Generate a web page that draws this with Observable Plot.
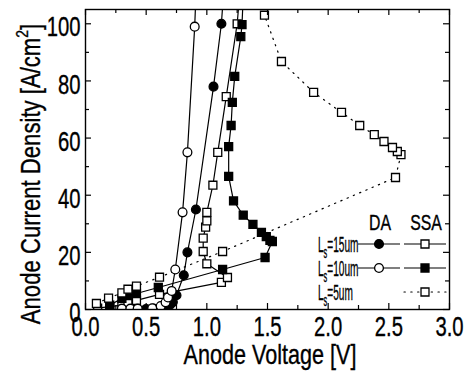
<!DOCTYPE html>
<html><head><meta charset="utf-8">
<script src="https://cdn.jsdelivr.net/npm/d3@7"></script>
<script src="https://cdn.jsdelivr.net/npm/@observablehq/plot@0.6"></script>
<style>body{margin:0;background:#fff} svg{display:block}</style>
</head><body><div id="chart"></div>
<script>
// ---- data (Anode voltage [V], anode current density [A/cm2]) ----
const ls15DA_V = [0.50,0.56,0.62,0.66,0.70,0.72,0.75,0.81,0.84,0.91,1.055,1.12,1.14];
const ls15DA_J = [0.2,0.3,0.5,1.0,1.8,2.6,5.0,12,20,35,78,100,112];

const ls10DA_V = [0.30,0.37,0.43,0.55,0.62,0.66,0.68,0.71,0.74,0.80,0.84,0.90,0.91];
const ls10DA_J = [0.3,0.3,0.3,0.4,1.2,2.5,4.2,6.5,14,34,55,99,110];

const ls15SSA_V = [0.10,0.20,0.30,0.35,0.42,0.61,1.12,1.17,1.00,0.97,0.97,0.99,1.00,1.00,1.05,1.09,1.16,1.25,1.27];
const ls15SSA_J = [0.5,1.0,1.5,2.5,3.2,5.3,9.5,11.2,16,20.3,25,28.8,31,34,43.5,55,74.5,100,110];

const ls10SSA_V = [0.20,0.30,0.35,0.42,0.60,1.13,1.48,1.54,1.52,1.49,1.45,1.38,1.30,1.22,1.18,1.18,1.20,1.21,1.23,1.28,1.29,1.30];
const ls10SSA_J = [1.5,3.9,4.9,5.6,7.7,14,18.2,23.8,24.2,25.5,27,29.8,33,38,46.6,57,64.4,72.5,81.6,95.5,99.7,110];

const ls5SSA_V = [0.09,0.19,0.30,0.35,0.42,0.61,1.13,2.555,2.60,2.57,2.53,2.46,2.38,2.26,2.11,1.88,1.615,1.475];
const ls5SSA_J = [2.1,4.0,5.8,7.1,8.2,11.3,20.3,46.2,54.2,55.3,56.7,58.8,61.2,64.4,69,76,86.8,103];

const xMajor = [0,0.5,1.0,1.5,2.0,2.5,3.0];
const xMinor = [0.25,0.75,1.25,1.75,2.25,2.75];
const yMajor = [0,20,40,60,80,100];
const yMinor = [10,30,50,70,90];

const legendCols = ["DA","SSA"];
const legendRows = ["15um","10um","5um"];

// ---- build ----
const series = [
  {V: ls15SSA_V, J: ls15SSA_J, symbol: "square", fill: "white", dash: null},
  {V: ls10SSA_V, J: ls10SSA_J, symbol: "square", fill: "black", dash: null},
  {V: ls5SSA_V,  J: ls5SSA_J,  symbol: "square", fill: "white", dash: "1.3,5.5"},
  {V: ls15DA_V,  J: ls15DA_J,  symbol: "circle", fill: "black", dash: null},
  {V: ls10DA_V,  J: ls10DA_J,  symbol: "circle", fill: "white", dash: null}
];
const toRows = s => s.V.map((v,i) => ({v, j: s.J[i]}));

const W = 471, H = 383, mL = 85, mR = 22, mT = 9, mB = 74;
const innerW = W - mL - mR, innerH = H - mT - mB;
const font = "'Liberation Sans', Arial, sans-serif";

const marks = [];
for (const s of series) {
  marks.push(Plot.line(toRows(s), {x: "v", y: "j", stroke: "black", strokeWidth: 1.2,
    strokeDasharray: s.dash || undefined, strokeLinecap: s.dash ? "round" : undefined, clip: true}));
}
for (const s of series) {
  marks.push(Plot.dot(toRows(s), {x: "v", y: "j", symbol: s.symbol, r: s.symbol === "square" ? 4.5 : 4.4,
    fill: s.fill, stroke: "black", strokeWidth: 1.3, clip: true}));
}
// inward ticks on all four sides
marks.push(
  Plot.ruleX(xMajor, {x: d => d, insetTop: innerH - 6, stroke: "black", strokeWidth: 1.2}),
  Plot.ruleX(xMajor, {x: d => d, insetBottom: innerH - 6, stroke: "black", strokeWidth: 1.2}),
  Plot.ruleX(xMinor, {x: d => d, insetTop: innerH - 4, stroke: "black", strokeWidth: 1.2}),
  Plot.ruleX(xMinor, {x: d => d, insetBottom: innerH - 4, stroke: "black", strokeWidth: 1.2}),
  Plot.ruleY(yMajor, {y: d => d, insetRight: innerW - 6, stroke: "black", strokeWidth: 1.2}),
  Plot.ruleY(yMajor, {y: d => d, insetLeft: innerW - 6, stroke: "black", strokeWidth: 1.2}),
  Plot.ruleY(yMinor, {y: d => d, insetRight: innerW - 4, stroke: "black", strokeWidth: 1.2}),
  Plot.ruleY(yMinor, {y: d => d, insetLeft: innerW - 4, stroke: "black", strokeWidth: 1.2}),
  Plot.frame({stroke: "black", strokeWidth: 1.4}),
  Plot.axisX(xMajor, {tickSize: 0, tickPadding: 7, fontSize: 27, tickFormat: d3.format(".1f"), label: null}),
  Plot.axisY(yMajor, {tickSize: 0, tickPadding: 5, dy: 4, fontSize: 27, label: null})
);

const svg = Plot.plot({
  width: W, height: H, marginLeft: mL, marginRight: mR, marginTop: mT, marginBottom: mB,
  x: {domain: [0, 3]},
  y: {domain: [0, 105]},
  style: {fontFamily: font, color: "black", background: "white", overflow: "visible"},
  marks
});

// horizontally condense Plot's tick labels (they use translate transforms)
d3.select(svg).selectAll("text").each(function() {
  const t = this.getAttribute("transform") || "";
  this.setAttribute("transform", t + " scale(0.75,1)");
  this.setAttribute("stroke", "black");
  this.setAttribute("stroke-width", 0.35);
});

const g = d3.select(svg).append("g").attr("font-family", font).attr("fill", "black")
  .attr("stroke", "black").attr("stroke-width", 0.35);

// axis titles
g.append("text").attr("text-anchor", "middle").attr("font-size", 27)
  .attr("transform", "translate(270,364) scale(0.8,1)").text("Anode Voltage [V]");
const yt = g.append("text").attr("text-anchor", "middle").attr("font-size", 27)
  .attr("transform", "translate(40,174) rotate(-90) scale(0.82,1)");
yt.append("tspan").text("Anode Current Density [A/cm");
yt.append("tspan").attr("font-size", 17).attr("dy", -12).text("2");
yt.append("tspan").attr("dy", 12).text("]");

// legend
const colX = [379, 425];
const rowY = [244, 268, 292];
legendCols.forEach((c, i) => {
  g.append("text").attr("text-anchor", "middle").attr("font-size", 22)
    .attr("transform", `translate(${colX[i] + 1},230) scale(0.72,1)`).text(c);
});
const sym = (type, r) => d3.symbol(type === "circle" ? d3.symbolCircle : d3.symbolSquare, Math.PI * r * r)();
const legendItems = [
  [{fill: "black", symbol: "circle", dash: null}, {fill: "white", symbol: "square", dash: null}],
  [{fill: "white", symbol: "circle", dash: null}, {fill: "black", symbol: "square", dash: null}],
  [null, {fill: "white", symbol: "square", dash: "1.3,5.5"}]
];
legendRows.forEach((r, k) => {
  const t = g.append("text").attr("text-anchor", "start").attr("font-size", 22)
    .attr("transform", `translate(318,${rowY[k] + 8}) scale(0.46,1)`);
  t.append("tspan").text("L");
  t.append("tspan").attr("font-size", 16).attr("dy", 6).text("s");
  t.append("tspan").attr("dy", -6).text("=" + r);
  legendItems[k].forEach((it, i) => {
    if (!it) return;
    const x0 = i === 0 ? 358 : 404, x1 = i === 0 ? 400 : 446;
    g.append("line").attr("x1", x0).attr("x2", x1).attr("y1", rowY[k]).attr("y2", rowY[k])
      .attr("stroke", "black").attr("stroke-width", 1.2)
      .attr("stroke-dasharray", it.dash).attr("stroke-linecap", it.dash ? "round" : null);
    g.append("path").attr("d", sym(it.symbol, it.symbol === "square" ? 4.5 : 4.4))
      .attr("transform", `translate(${colX[i]},${rowY[k]})`)
      .attr("fill", it.fill).attr("stroke", "black").attr("stroke-width", 1.3);
  });
});

document.getElementById("chart").appendChild(svg);
</script>
</body></html>
